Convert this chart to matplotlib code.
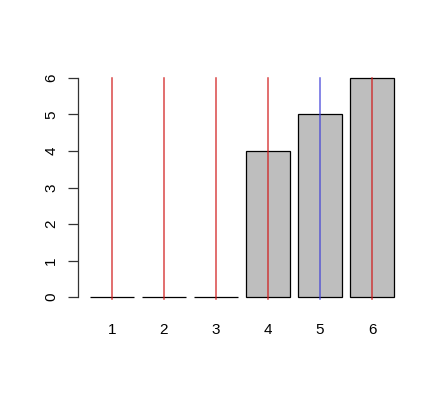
import numpy as np
import matplotlib.pyplot as plt

plt.rcParams["font.family"] = ["Liberation Sans", "DejaVu Sans"]

labels = ["1", "2", "3", "4", "5", "6"]
heights = [0, 0, 0, 4, 5, 6]
line_colors = ["#D01818", "#D01818", "#D01818", "#D01818", "#4040D8", "#D01818"]

# R barplot geometry: width 1, space 0.2
n = len(heights)
centers = 0.7 + 1.2 * np.arange(n)

fig = plt.figure(figsize=(4.46, 3.97), dpi=100)
ax = fig.add_axes([0.1749, 0.2292, 0.7354, 0.597])

ax.bar(centers, heights, width=1.0, color="#BEBEBE", edgecolor="black", linewidth=0.9, zorder=2)
for c, col in zip(centers, line_colors):
    ax.plot([c, c], [-0.05, 6], color=col, linewidth=1.1, alpha=0.8, zorder=3)

ax.set_xlim(-0.08, 7.48)
ax.set_ylim(-0.24, 6.24)

for s in ["top", "right", "bottom"]:
    ax.spines[s].set_visible(False)
ax.spines["left"].set_bounds(0, 6)
ax.spines["left"].set_color("#333333")
ax.spines["left"].set_linewidth(0.9)

ax.set_yticks(range(0, 7))
ax.set_yticklabels([str(i) for i in range(0, 7)], rotation=90, va="center", fontsize=11)
ax.tick_params(axis="y", length=7.2, width=0.9, pad=7, color="#333333")

ax.set_xticks(centers)
ax.set_xticklabels(labels, fontsize=11)
ax.tick_params(axis="x", length=0, pad=12)

fig.savefig("out.png", dpi=100)
